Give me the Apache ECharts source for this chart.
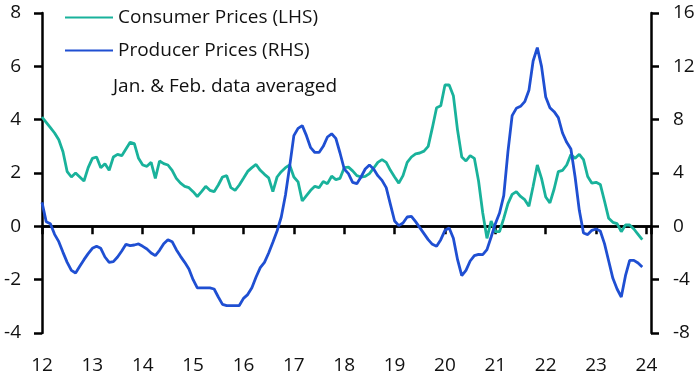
<!DOCTYPE html>
<html>
<head>
<meta charset="utf-8">
<script src="https://cdn.jsdelivr.net/npm/echarts@6/dist/echarts.min.js"></script>
<style>
html,body{margin:0;padding:0;background:#fff;}
#chart{width:699px;height:377px;}
</style>
</head>
<body>
<div id="chart"></div>
<script>
// Monthly data, Jan 2012 .. Dec 2023 (x = year - 2000 + month/12)
const startYear = 12;
const consumerPrices = [
  4.1, 3.9, 3.7, 3.5, 3.25, 2.8, 2.05, 1.85, 2.0, 1.85, 1.7, 2.2,
  2.55, 2.6, 2.2, 2.35, 2.1, 2.6, 2.7, 2.65, 2.9, 3.15, 3.1, 2.55,
  2.3, 2.25, 2.4, 1.8, 2.45, 2.35, 2.3, 2.1, 1.8, 1.62, 1.5, 1.45,
  1.3, 1.12, 1.3, 1.5, 1.35, 1.3, 1.55, 1.85, 1.9, 1.45, 1.35, 1.55,
  1.8, 2.06, 2.2, 2.32, 2.1, 1.95, 1.82, 1.3, 1.85, 2.05, 2.2, 2.3,
  1.85, 1.67, 0.95, 1.15, 1.35, 1.5, 1.45, 1.68, 1.6, 1.88, 1.75, 1.8,
  2.2, 2.22, 2.08, 1.9, 1.85, 1.87, 1.98, 2.18, 2.4, 2.5, 2.4, 2.1,
  1.85, 1.62, 1.9, 2.4, 2.6, 2.72, 2.75, 2.82, 3.0, 3.7, 4.45, 4.52,
  5.3, 5.3, 4.9, 3.6, 2.6, 2.45, 2.65, 2.55, 1.7, 0.5, -0.45, 0.2,
  -0.2, -0.2, 0.3, 0.85, 1.2, 1.3, 1.12, 1.0, 0.75, 1.5, 2.3, 1.8,
  1.1, 0.88, 1.4, 2.05, 2.1, 2.3, 2.69, 2.55, 2.7, 2.5, 1.87, 1.62,
  1.65, 1.57, 0.95, 0.3, 0.15, 0.1, -0.2, 0.05, 0.05, -0.1, -0.3, -0.5
];
const producerPrices = [
  1.8, 0.35, 0.2, -0.6, -1.15, -1.95, -2.7, -3.3, -3.5, -3.0, -2.5, -2.05,
  -1.65, -1.5, -1.65, -2.3, -2.7, -2.65, -2.3, -1.85, -1.35, -1.45, -1.4, -1.32,
  -1.5, -1.7, -2.0, -2.2, -1.8, -1.3, -1.0, -1.15, -1.75, -2.25, -2.7, -3.2,
  -4.0, -4.62, -4.62, -4.62, -4.62, -4.7, -5.3, -5.85, -5.94, -5.94, -5.94, -5.94,
  -5.4, -5.12, -4.6, -3.8, -3.1, -2.7, -2.0, -1.2, -0.35, 0.7, 2.35, 4.5,
  6.8, 7.35, 7.55, 6.8, 5.9, 5.54, 5.54, 6.0, 6.7, 6.94, 6.6, 5.5,
  4.3, 3.95, 3.3, 3.2, 3.7, 4.3, 4.6, 4.3, 3.8, 3.45, 2.9, 1.65,
  0.4, 0.05, 0.25, 0.7, 0.75, 0.35, -0.1, -0.55, -1.0, -1.35, -1.5, -1.0,
  -0.3, -0.12, -0.9, -2.5, -3.7, -3.3, -2.6, -2.2, -2.1, -2.12, -1.75, -0.8,
  0.2, 1.0, 2.3, 5.6, 8.3, 8.85, 9.0, 9.35, 10.2, 12.4, 13.4, 12.0,
  9.7, 8.9, 8.6, 8.15, 7.0, 6.3, 5.8, 3.7, 1.2, -0.5, -0.62, -0.3,
  -0.2, -0.35, -1.3, -2.6, -3.9, -4.7, -5.3, -3.7, -2.55, -2.55, -2.75, -3.05
];
const xTickLabels = [12, 13, 14, 15, 16, 17, 18, 19, 20, 21, 22, 23, 24];
const leftTicks = [-4, -2, 0, 2, 4, 6, 8];
const rightTicks = [-8, -4, 0, 4, 8, 12, 16];
const seriesNames = ['Consumer Prices (LHS)', 'Producer Prices (RHS)'];
const noteText = 'Jan. & Feb. data averaged';

const toPairs = arr => arr.map((v, i) => [startYear + i / 12, v]);

const FONT = 'Open Sans';
const TEAL = '#19b29b';
const BLUE = '#1f4fd2';

const chart = echarts.init(document.getElementById('chart'), null, {renderer: 'canvas'});
chart.setOption({
  animation: false,
  grid: {left: 42, right: 48, top: 13, bottom: 44, containLabel: false},
  legend: {
    orient: 'vertical',
    left: 60,
    top: 3,
    itemWidth: 48,
    itemHeight: 12,
    itemGap: 14,
    icon: 'path://M0,5 L48,5 L48,7 L0,7 Z',
    textStyle: {fontFamily: FONT, fontSize: 19, color: '#111'},
    data: [
      {name: seriesNames[0], itemStyle: {color: TEAL}},
      {name: seriesNames[1], itemStyle: {color: BLUE}}
    ]
  },
  graphic: [{
    type: 'text', left: 113, top: 77,
    style: {text: noteText, font: '19px "Open Sans"', fill: '#111'}
  }],
  xAxis: {
    type: 'value',
    min: xTickLabels[0],
    max: 24.09,
    interval: 1,
    splitLine: {show: false},
    axisLine: {lineStyle: {color: '#000', width: 2.5}},
    axisTick: {length: 8, lineStyle: {color: '#000', width: 2.5}},
    axisLabel: {
      margin: 23,
      fontFamily: FONT, fontSize: 19, color: '#111',
      formatter: v => (xTickLabels.indexOf(Math.round(v * 1000) / 1000) >= 0 ? String(v) : '')
    }
  },
  yAxis: [{
    type: 'value',
    min: leftTicks[0], max: leftTicks[leftTicks.length - 1], interval: 2,
    position: 'left',
    splitLine: {show: false},
    axisLine: {show: true, lineStyle: {color: '#000', width: 2.5}},
    axisTick: {show: true, length: 8, lineStyle: {color: '#000', width: 2.5}},
    axisLabel: {margin: 21, fontFamily: FONT, fontSize: 19, color: '#111'}
  }, {
    type: 'value',
    min: rightTicks[0], max: rightTicks[rightTicks.length - 1], interval: 4,
    position: 'right',
    splitLine: {show: false},
    axisLine: {show: true, lineStyle: {color: '#000', width: 2.5}},
    axisTick: {show: true, length: 8, lineStyle: {color: '#000', width: 2.5}},
    axisLabel: {margin: 22, fontFamily: FONT, fontSize: 19, color: '#111'}
  }],
  series: [{
    name: seriesNames[0],
    type: 'line',
    yAxisIndex: 0,
    data: toPairs(consumerPrices),
    symbol: 'none',
    lineStyle: {color: TEAL, width: 2.8},
    itemStyle: {color: TEAL},
    z: 3,
    markLine: {
      silent: true,
      symbol: 'none',
      label: {show: false},
      lineStyle: {color: '#000', width: 2.5, type: 'solid'},
      data: [{yAxis: 0}],
      z: 2
    }
  }, {
    name: seriesNames[1],
    type: 'line',
    yAxisIndex: 1,
    data: toPairs(producerPrices),
    symbol: 'none',
    lineStyle: {color: BLUE, width: 2.8},
    itemStyle: {color: BLUE},
    z: 4
  }]
});
</script>
</body>
</html>
